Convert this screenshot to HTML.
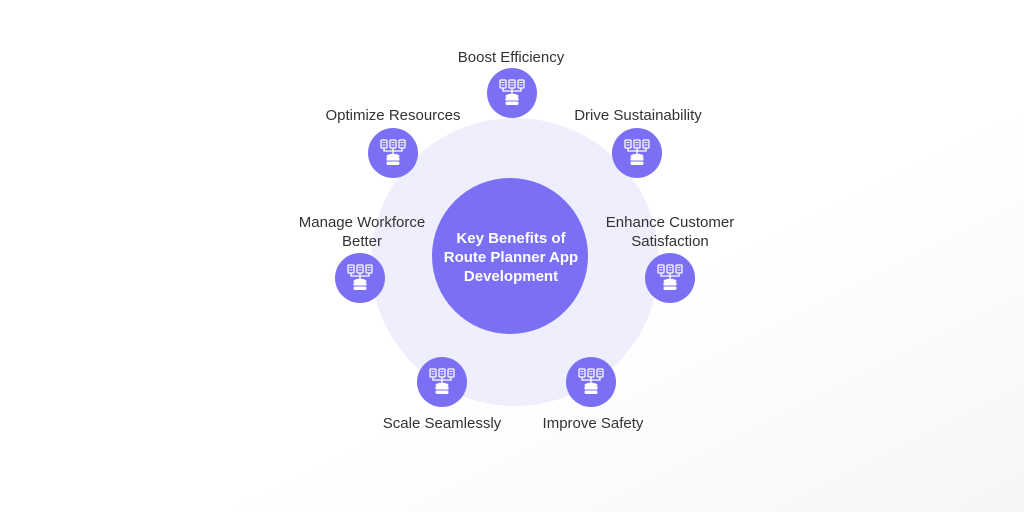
<!DOCTYPE html>
<html><head><meta charset="utf-8"><style>
body{margin:0;width:1024px;height:512px;background:#fff;overflow:hidden;font-family:"Liberation Sans",sans-serif}
</style></head><body>
<svg width="1024" height="512" viewBox="0 0 1024 512" xmlns="http://www.w3.org/2000/svg">
<defs>
<linearGradient id="bg" x1="0" y1="0" x2="1" y2="1">
<stop offset="0" stop-color="#fff"/><stop offset="0.6" stop-color="#fff"/><stop offset="1" stop-color="#f6f6f8"/>
</linearGradient>
<g id="ic">
<circle r="25" fill="#7b70f3"/>
<g fill="none" stroke="#fff" stroke-width="1.3">
<rect x="-12" y="-13" width="6" height="8" rx="1"/>
<rect x="-3" y="-13" width="6" height="8" rx="1"/>
<rect x="6" y="-13" width="6" height="8" rx="1"/>
<path d="M-9 -5V-2H9V-5M0 -5V1"/>
<path d="M-10.5 -10.5h3M-10.5 -8h3M-1.5 -10.5h3M-1.5 -8h3M7.5 -10.5h3M7.5 -8h3" stroke-width="1"/>
</g>
<ellipse cx="0" cy="3" rx="6.5" ry="2.2" fill="#fff"/>
<rect x="-6.5" y="4.5" width="13" height="3" fill="#fff"/>
<rect x="-6.5" y="8.5" width="13" height="3.5" rx="1.5" fill="#fff"/>
</g>
</defs>
<rect width="1024" height="512" fill="url(#bg)"/>
<circle cx="515" cy="262" r="144" fill="#eeeefd"/>
<circle cx="510" cy="256" r="78" fill="#7b70f3"/>
<g fill="#fff" font-weight="bold" font-size="15" text-anchor="middle">
<text x="511" y="243">Key Benefits of</text>
<text x="511" y="262">Route Planner App</text>
<text x="511" y="281">Development</text>
</g>
<use href="#ic" x="512" y="93"/>
<use href="#ic" x="393" y="153"/>
<use href="#ic" x="637" y="153"/>
<use href="#ic" x="360" y="278"/>
<use href="#ic" x="670" y="278"/>
<use href="#ic" x="442" y="382"/>
<use href="#ic" x="591" y="382"/>
<g fill="#333" font-size="15" text-anchor="middle">
<text x="511" y="62">Boost Efficiency</text>
<text x="393" y="120">Optimize Resources</text>
<text x="638" y="120">Drive Sustainability</text>
<text x="362" y="227">Manage Workforce</text>
<text x="362" y="246">Better</text>
<text x="670" y="227">Enhance Customer</text>
<text x="670" y="246">Satisfaction</text>
<text x="442" y="428">Scale Seamlessly</text>
<text x="593" y="428">Improve Safety</text>
</g>
</svg>
</body></html>
